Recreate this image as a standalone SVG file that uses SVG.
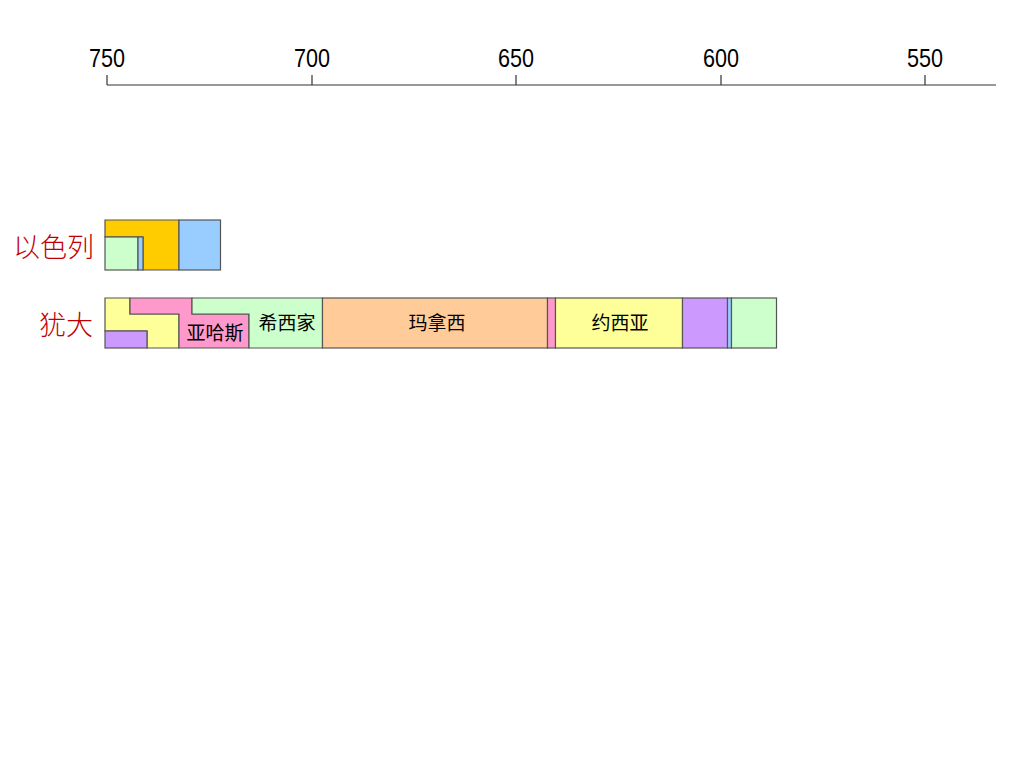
<svg xmlns="http://www.w3.org/2000/svg" width="1024" height="768" viewBox="0 0 1024 768">
<style>
.bg{fill:#fff}
.ax{stroke:#333;stroke-width:1.2;fill:none}
.tk{font-family:"Liberation Sans","DejaVu Sans",sans-serif;font-size:26px;fill:#000;text-anchor:middle}
.seg{stroke:#555;stroke-width:1.2}
.lb{font-family:"Noto Sans CJK SC","Noto Sans",sans-serif;font-size:19px;fill:#000;text-anchor:middle}
.kg{font-family:"Noto Sans CJK SC","Noto Sans",sans-serif;font-size:27px;font-weight:300;fill:#c00000;text-anchor:end}
.gold{fill:#FFCC00}.blue{fill:#99CCFF}.green{fill:#CCFFCC}.yel{fill:#FFFF99}.pink{fill:#FF99CC}.pur{fill:#CC99FF}.org{fill:#FFCC99}
</style>
<rect class="bg" x="0" y="0" width="1024" height="768"/>
<g id="axis">
<path class="ax" d="M107,85H996M107,75V85M312,75V85M516,75V85M721,75V85M925,75V85"/>
<text class="tk" x="107" y="67" textLength="36" lengthAdjust="spacingAndGlyphs">750</text>
<text class="tk" x="312" y="67" textLength="36" lengthAdjust="spacingAndGlyphs">700</text>
<text class="tk" x="516" y="67" textLength="36" lengthAdjust="spacingAndGlyphs">650</text>
<text class="tk" x="721" y="67" textLength="36" lengthAdjust="spacingAndGlyphs">600</text>
<text class="tk" x="925" y="67" textLength="36" lengthAdjust="spacingAndGlyphs">550</text>
</g>
<g id="israel">
<text class="kg" x="94" y="257">以色列</text>
<polygon class="seg gold" points="105,220 179,220 179,270 143,270 143,237 105,237"/>
<rect class="seg green" x="105" y="237" width="33" height="33"/>
<rect class="seg blue" x="138" y="237" width="5" height="33"/>
<rect class="seg blue" x="179" y="220" width="41.5" height="50"/>
</g>
<g id="judah">
<text class="kg" x="93" y="335">犹大</text>
<polygon class="seg yel" points="105,298 130,298 130,314 179,314 179,348 147,348 147,331 105,331"/>
<rect class="seg pur" x="105" y="331" width="42" height="17"/>
<polygon class="seg pink" points="130,298 192,298 192,314 249,314 249,348 179,348 179,314 130,314"/>
<polygon class="seg green" points="192,298 322.5,298 322.5,348 249,348 249,314 192,314"/>
<rect class="seg org" x="322.5" y="298" width="225" height="50"/>
<rect class="seg pink" x="547.5" y="298" width="8" height="50"/>
<rect class="seg yel" x="555.5" y="298" width="127" height="50"/>
<rect class="seg pur" x="682.5" y="298" width="45" height="50"/>
<rect class="seg blue" x="727.5" y="298" width="4" height="50"/>
<rect class="seg green" x="731.5" y="298" width="45" height="50"/>
<text class="lb" x="215" y="340">亚哈斯</text>
<text class="lb" x="287" y="330">希西家</text>
<text class="lb" x="437" y="330">玛拿西</text>
<text class="lb" x="620" y="330">约西亚</text>
</g>
</svg>
